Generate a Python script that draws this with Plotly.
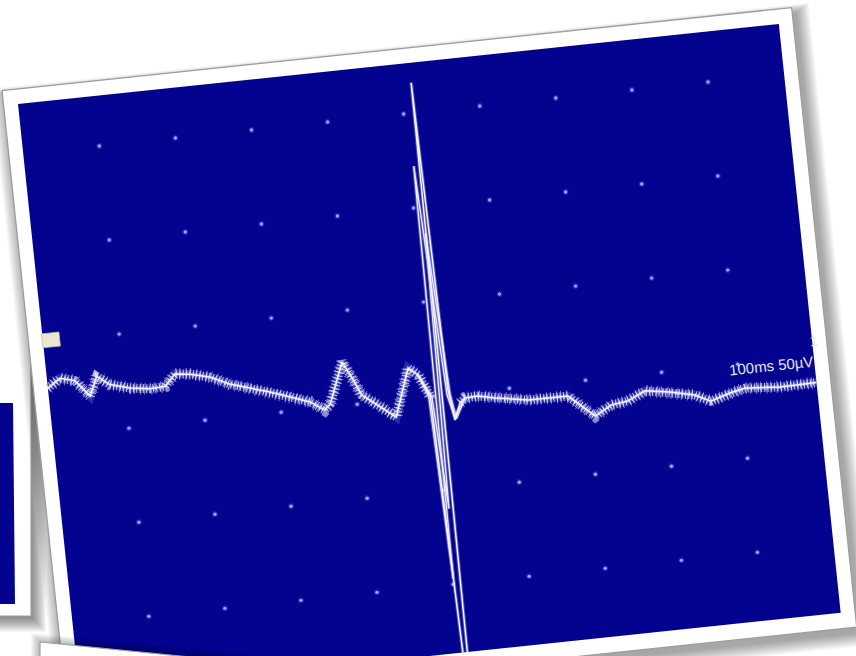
import numpy as np
import plotly.graph_objects as go

# ---------------- data (time in ms, amplitude in µV) ----------------
trace_t = [0, 17, 36, 54, 65, 81, 107, 133, 153, 167, 187, 212, 237, 263, 288,
           314, 339, 357, 365, 386, 397, 407, 427, 449, 471, 483, 496,
           508, 514, 520, 525, 534, 541, 558, 580, 623, 675, 708, 730, 752,
           776, 808, 840, 860, 886, 906, 952, 1000]
trace_uv = [25.5, 30, 28, 19, 29, 24, 21, 19.5, 20, 26, 25, 22.4, 17.6, 14.4, 11.2,
            7.5, 3.8, -1.3, 1.6, 23, 14, 4.6, -1.6, -8.9, 16.2, 12, 0,
            -220, 166, 2.5, -13.7, -5, -2.7, -2.4, -4.3, -7.3, -7.4, -19.4, -14.5, -13.3,
            -8.9, -10.9, -13.8, -17.9, -14.7, -13, -14.3, -14]

# start and end of the fast spike (ms)
spike_start, spike_end = 496, 534

sweep2_t = [483, 494, 501, 506, 518, 525, 541]
sweep2_uv = [12, 0, -97, 122, 0, -12, -2.7]
sweep3_t = [483, 498, 505, 512, 522, 527, 541]
sweep3_uv = [12, 0, -60, 86, 0, -13, -2.7]

grid_t = [100, 200, 300, 400, 500, 600, 700, 800, 900]
grid_uv = [150, 100, 50, 0, -50, -100]

scale_label = "100ms 50µV"
channel_label = "1"

# ---------------- display geometry (photo of a tilted screen) ----------------
ANG = np.deg2rad(6.0)
ORIGIN = (18.0, 104.0)
PX_MS = 0.765
PX_UV = 1.892
V_ZERO = 334.0
PANEL_W = 765.0
PANEL_H = 592.0
UV_LO = (V_ZERO - PANEL_H) / PX_UV
UV_HI = V_ZERO / PX_UV
C, S = np.cos(ANG), np.sin(ANG)


def uv_to_screen(u, v):
    u = np.asarray(u, float)
    v = np.asarray(v, float)
    return ORIGIN[0] + C * u + S * v, ORIGIN[1] - S * u + C * v


def to_screen(t, a):
    t = np.asarray(t, float)
    a = np.asarray(a, float)
    return uv_to_screen(t * PX_MS, V_ZERO - a * PX_UV)


def rect_uv(u0, u1, v0, v1, dx=0.0, dy=0.0):
    x, y = uv_to_screen([u0, u1, u1, u0, u0], [v0, v0, v1, v1, v0])
    return list(x + dx), list(y + dy)


def clip_line(t, a, lo, hi):
    out_t, out_a = [], []
    last = None
    for i in range(len(t) - 1):
        t0, a0, t1, a1 = t[i], a[i], t[i + 1], a[i + 1]
        if t0 is None or t1 is None:
            last = None
            continue
        da = a1 - a0
        if da == 0:
            if a0 < lo or a0 > hi:
                continue
            r0, r1 = 0.0, 1.0
        else:
            ra, rb = (lo - a0) / da, (hi - a0) / da
            r0, r1 = max(0.0, min(ra, rb)), min(1.0, max(ra, rb))
            if r0 > r1:
                continue
        p0 = (t0 + r0 * (t1 - t0), a0 + r0 * da)
        p1 = (t0 + r1 * (t1 - t0), a0 + r1 * da)
        if last is None or abs(last[0] - p0[0]) > 1e-9 or abs(last[1] - p0[1]) > 1e-9:
            if out_t:
                out_t.append(None)
                out_a.append(None)
            out_t.append(p0[0])
            out_a.append(p0[1])
        out_t.append(p1[0])
        out_a.append(p1[1])
        last = p1
    return out_t, out_a


def line_xy(t, a):
    ct, ca = clip_line(t, a, UV_LO, UV_HI)
    xs, ys = [], []
    for tt, aa in zip(ct, ca):
        if tt is None:
            xs.append(None)
            ys.append(None)
        else:
            x, y = to_screen(tt, aa)
            xs.append(float(x))
            ys.append(float(y))
    return xs, ys


fig = go.Figure()


def poly(x, y, fill, line_color=None, line_width=0):
    fig.add_trace(go.Scatter(
        x=x, y=y, mode="lines", fill="toself", fillcolor=fill,
        line=dict(color=line_color or "rgba(0,0,0,0)", width=line_width),
        hoverinfo="skip", showlegend=False))


def plain_line(x, y, color, width, dash="solid"):
    fig.add_trace(go.Scatter(x=x, y=y, mode="lines",
                             line=dict(color=color, width=width, dash=dash),
                             hoverinfo="skip", showlegend=False))


BLUE = "#03038f"

# ---- photo behind, on the left ----
for d in range(1, 16):
    poly([-40, 31 + d, 31 + d, -40, -40], [330, 330, 617 + d, 617 + d, 330],
         "rgba(0,0,0,0.035)")
poly([-40, 31, 31, -40, -40], [320, 320, 616, 616, 320], "white")
plain_line([31, 31, -40], [250, 616, 616], "#a0a0a0", 1.2)
poly([-40, 13, 15, -40, -40], [403, 403, 604, 604, 403], BLUE)

# ---- main frame shadow, frame and screen ----
FU0, FU1, FV0, FV1 = -14.5, PANEL_W + 14.5, -15.0, PANEL_H + 16.0
for d in range(1, 15):
    x, y = rect_uv(FU0 - d, FU1 + d, FV0 - d * 0.6, FV1 + d, dx=4, dy=5)
    poly(x, y, "rgba(0,0,0,0.028)")
x, y = rect_uv(FU0, FU1, FV0, FV1)
poly(x, y, "white", "#9c9c9c", 1.3)
x, y = rect_uv(0, PANEL_W, 0, PANEL_H)
poly(x, y, BLUE)

# ---- grid dots ----
gt, ga = np.meshgrid(grid_t, grid_uv)
gx, gy = to_screen(gt.ravel(), ga.ravel())
fig.add_trace(go.Scatter(x=gx, y=gy, mode="markers",
                         marker=dict(size=6, color="rgba(120,120,255,0.25)", line=dict(width=0)),
                         hoverinfo="skip", showlegend=False))
fig.add_trace(go.Scatter(x=gx, y=gy, mode="markers",
                         marker=dict(size=3.4, color="#a0a0ff", line=dict(width=0)),
                         hoverinfo="skip", showlegend=False))

# ---- beige channel marker tab ----
tx, ty = to_screen([-1, 22, 22, -1, -1], [54.4, 54.4, 47, 47, 54.4])
poly(list(tx), list(ty), "#ebe6d2", "#c8c2a8", 0.8)

# ---- traces ----
# slow (noisy) part of the main sweep: drawn as a textured band
band_t, band_uv = [], []
for tt, aa in zip(trace_t, trace_uv):
    if spike_start < tt < spike_end:
        if band_t and band_t[-1] is not None:
            band_t.append(None)
            band_uv.append(None)
        continue
    band_t.append(tt)
    band_uv.append(aa)
bx, by = line_xy(band_t, band_uv)
plain_line(bx, by, "rgba(170,170,255,0.22)", 9)
plain_line(bx, by, "rgba(240,240,255,0.70)", 9, "1px,2.3px")
plain_line(bx, by, "rgba(250,250,255,0.75)", 5, "1.2px,1.7px,0.8px,2.9px")
plain_line(bx, by, "rgba(235,235,255,0.55)", 12, "0.9px,5.3px,1px,3.1px")

for st, sa in ((sweep2_t, sweep2_uv), (sweep3_t, sweep3_uv)):
    sx, sy = line_xy(st, sa)
    plain_line(sx, sy, "rgba(200,200,255,0.35)", 3.5)
    plain_line(sx, sy, "#eeeeff", 1.4)
mx, my = line_xy(trace_t, trace_uv)
plain_line(mx, my, "rgba(200,200,255,0.35)", 3.5)
plain_line(mx, my, "#f6f6ff", 1.5)

# ---- photo in front, at the bottom ----
for d in range(1, 10):
    poly([40 - d, 300, 300, 40 - d, 40 - d], [642 - d, 668 - d, 720, 720, 642 - d],
         "rgba(0,0,0,0.03)")
poly([40, 300, 300, 40, 40], [642, 668, 720, 720, 642], "white", "#a0a0a0", 1.2)

# ---- labels ----
lx, ly = to_screen(944, -2.8)
fig.add_annotation(x=float(lx), y=float(ly), text=scale_label, showarrow=False,
                   textangle=-6, font=dict(family="Arial, Liberation Sans", size=15,
                                           color="#e6e6f2"))
cx, cy = to_screen(1002, 7.9)
fig.add_annotation(x=float(cx), y=float(cy), text=channel_label, showarrow=False,
                   textangle=-6, font=dict(family="Arial, Liberation Sans", size=14,
                                           color="#e6e6f2"))

fig.update_layout(
    width=856, height=656, margin=dict(l=0, r=0, t=0, b=0),
    paper_bgcolor="white", plot_bgcolor="white",
    xaxis=dict(range=[0, 856], visible=False, fixedrange=True),
    yaxis=dict(range=[656, 0], visible=False, fixedrange=True),
    showlegend=False,
)

fig.write_html("out.html", config={"displayModeBar": False},
               post_script="document.body.style.margin='0';document.body.style.overflow='hidden';")
